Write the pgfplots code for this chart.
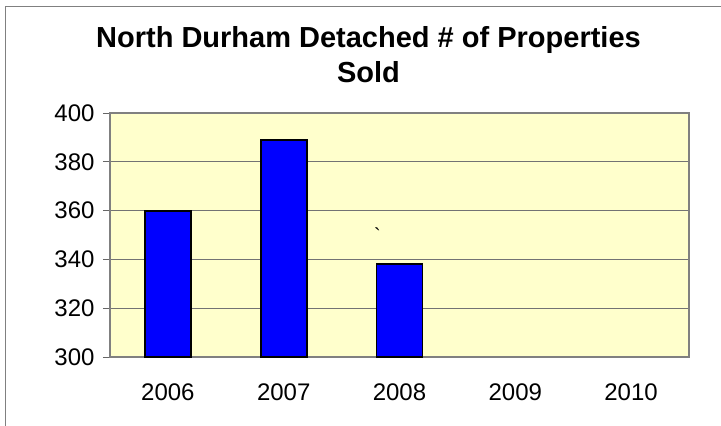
\documentclass[border=0pt]{standalone}
\usepackage{fontspec}
\setmainfont{Liberation Sans}
\usepackage{pgfplots}
\pgfplotsset{compat=1.18}
\definecolor{plotbg}{HTML}{FFFFCC}
\definecolor{framegray}{HTML}{808080}
\begin{document}
\begin{tikzpicture}
\useasboundingbox (-110pt,-69pt) rectangle (611pt,357pt);
\draw[framegray, line width=1pt] (-104pt,-80pt) -- (-104pt,350pt) -- (620pt,350pt);
\node[anchor=base, font=\bfseries\fontsize{29}{34}\selectfont] at (258.5pt,309pt) {North Durham Detached \# of Properties};
\node[anchor=base, font=\bfseries\fontsize{29}{34}\selectfont] at (258.5pt,274pt) {Sold};
\begin{axis}[
  at={(0,0)}, anchor=south west,
  scale only axis, width=579pt, height=244pt,
  xmin=-0.5, xmax=4.5, ymin=300, ymax=400,
  ytick={300,320,...,400},
  xtick={0,1,2,3,4},
  xticklabels={2006,2007,2008,2009,2010},
  x tick style={draw=none},
  extra x ticks={-0.5,0.5,1.5,2.5,3.5,4.5},
  extra x tick labels={},
  extra x tick style={major tick length=7pt, tick style={draw=black!60, line width=1pt}, tick align=outside, grid=none},
  ymajorgrids,
  grid style={draw=black!55, line width=0.9pt},
  y tick style={draw=black!60, line width=1pt},
  major tick length=7pt,
  tick align=outside,
  xtick pos=bottom, ytick pos=left,
  axis line style={draw=framegray, line width=1.2pt},
  axis background/.style={fill=plotbg},
  tick label style={font=\fontsize{24}{28}\selectfont},
  /pgf/number format/assume math mode=true,
  yticklabel style={xshift=-5pt},
  xticklabel style={yshift=-16pt},
]
\addplot[ybar, bar width=46pt, fill=blue, draw=black, line width=1.8pt]
  coordinates {(0,360) (1,389) (2,338)};
\node[font=\fontsize{20}{24}\selectfont] at (axis cs:1.81,350) {\textasciigrave};
\end{axis}
\end{tikzpicture}
\end{document}
